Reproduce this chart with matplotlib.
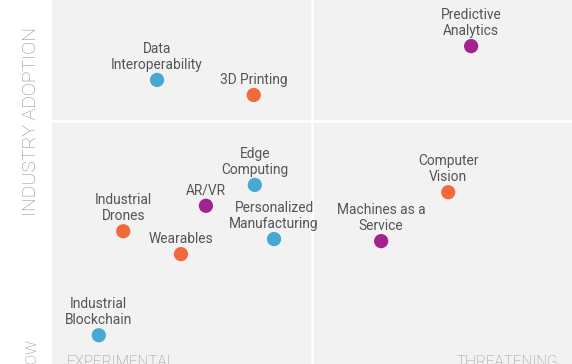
import matplotlib
matplotlib.use("Agg")
import matplotlib.pyplot as plt

# ==========================================
# DATA
# ==========================================
labels = ["Predictive\nAnalytics", "Data\nInteroperability", "3D Printing",
          "Edge\nComputing", "Computer\nVision", "AR/VR", "Industrial\nDrones",
          "Personalized\nManufacturing", "Machines as a\nService", "Wearables",
          "Industrial\nBlockchain"]
x_vals = [80.6, 20.2, 38.8, 39.0, 76.2, 29.6, 13.7, 42.7, 63.3, 24.8, 9.0]
y_vals = [64.4, 57.9, 55.0, 37.7, 36.3, 33.7, 28.8, 27.3, 26.9, 24.4, 8.8]
groups = ["purple", "blue", "orange", "blue", "orange", "purple", "orange",
          "blue", "purple", "orange", "blue"]

COLORS = {"blue": "#45a9d3", "orange": "#f26a3b", "purple": "#a3238e"}
TEXT = "#555555"
AXIS_TEXT = "#8c8c8c"
FONT = "Roboto"

fig = plt.figure(figsize=(5.72, 3.64), dpi=100)
ax = fig.add_axes([52 / 572, 0, 520 / 572, 1])
ax.set_facecolor("#f2f2f2")
ax.set_xlim(0, 100)
ax.set_ylim(3.27, 73.27)
for s in ax.spines.values():
    s.set_visible(False)
ax.set_xticks([])
ax.set_yticks([])

# quadrant dividers
ax.axvline(50, color="white", lw=1.9, zorder=1)
ax.axhline(50, color="white", lw=1.9, zorder=1)

ax.scatter(x_vals, y_vals, s=105, c=[COLORS[g] for g in groups],
           linewidths=0, zorder=3)

for lab, x, y in zip(labels, x_vals, y_vals):
    ax.annotate(lab, (x, y), xytext=(0, 6), textcoords="offset points",
                ha="center", va="bottom", fontsize=9.9, color=TEXT,
                family=FONT, linespacing=1.15, zorder=4)

# axis captions (chart is cropped at the edges, like the original)
fig.text(31.5 / 572, 243 / 364, "INDUSTRY ADOPTION", rotation=90,
         ha="center", va="center", fontsize=14, color=AXIS_TEXT,
         family=FONT, fontweight="light")
fig.text(31.5 / 572, 26 / 364, "LOW", rotation=90, ha="center", va="top",
         fontsize=11, color=AXIS_TEXT, family=FONT, fontweight="light")
fig.text(66 / 572, 9 / 364, "EXPERIMENTAL", ha="left", va="top",
         fontsize=11, color=AXIS_TEXT, family=FONT, fontweight="light")
fig.text(457 / 572, 9 / 364, "THREATENING", ha="left", va="top",
         fontsize=11, color=AXIS_TEXT, family=FONT, fontweight="light")

fig.savefig("out.png", dpi=100)
